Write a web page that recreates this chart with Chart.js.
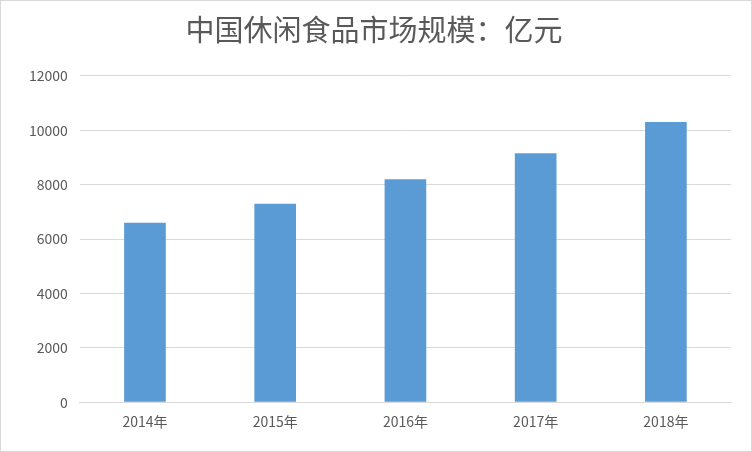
<!DOCTYPE html>
<html>
<head>
<meta charset="utf-8">
<script src="https://cdn.jsdelivr.net/npm/chart.js@4"></script>
<style>
  html, body { margin: 0; padding: 0; background: #fff; }
  #wrap { position: absolute; left: 0; top: 0; width: 750px; height: 450px; border: 1px solid #d9d9d9; }
</style>
</head>
<body>
<div id="wrap"><canvas id="chart"></canvas></div>
<script>
// 年份 / 市场规模（亿元）
const years = ['2014年', '2015年', '2016年', '2017年', '2018年'];
const marketSize = [6600, 7300, 8200, 9150, 10300];

const ctx = document.getElementById('chart').getContext('2d');
new Chart(ctx, {
  type: 'bar',
  data: {
    labels: years,
    datasets: [{
      data: marketSize,
      backgroundColor: '#5b9bd5',
      barPercentage: 0.64,
      categoryPercentage: 0.5
    }]
  },
  options: {
    responsive: true,
    maintainAspectRatio: false,
    animation: false,
    layout: { padding: { left: 16, right: 20, top: 0, bottom: 18 } },
    plugins: {
      legend: { display: false },
      tooltip: { enabled: false },
      title: {
        display: true,
        text: '中国休闲食品市场规模：亿元',
        color: '#595959',
        font: { family: 'Noto Sans CJK SC', size: 29, weight: 'normal' },
        padding: { top: 12, bottom: 28 }
      }
    },
    scales: {
      x: {
        grid: { display: false },
        border: { color: '#d9d9d9' },
        ticks: { color: '#595959', font: { family: 'Noto Sans CJK SC', size: 14 } }
      },
      y: {
        min: 0,
        max: 12000,
        ticks: {
          stepSize: 2000, color: '#595959', padding: 12,
          font: { family: 'Noto Sans CJK SC', size: 14 },
          callback: v => String(v)
        },
        grid: { color: '#d9d9d9', drawTicks: false },
        border: { display: false }
      }
    }
  }
});
</script>
</body>
</html>
